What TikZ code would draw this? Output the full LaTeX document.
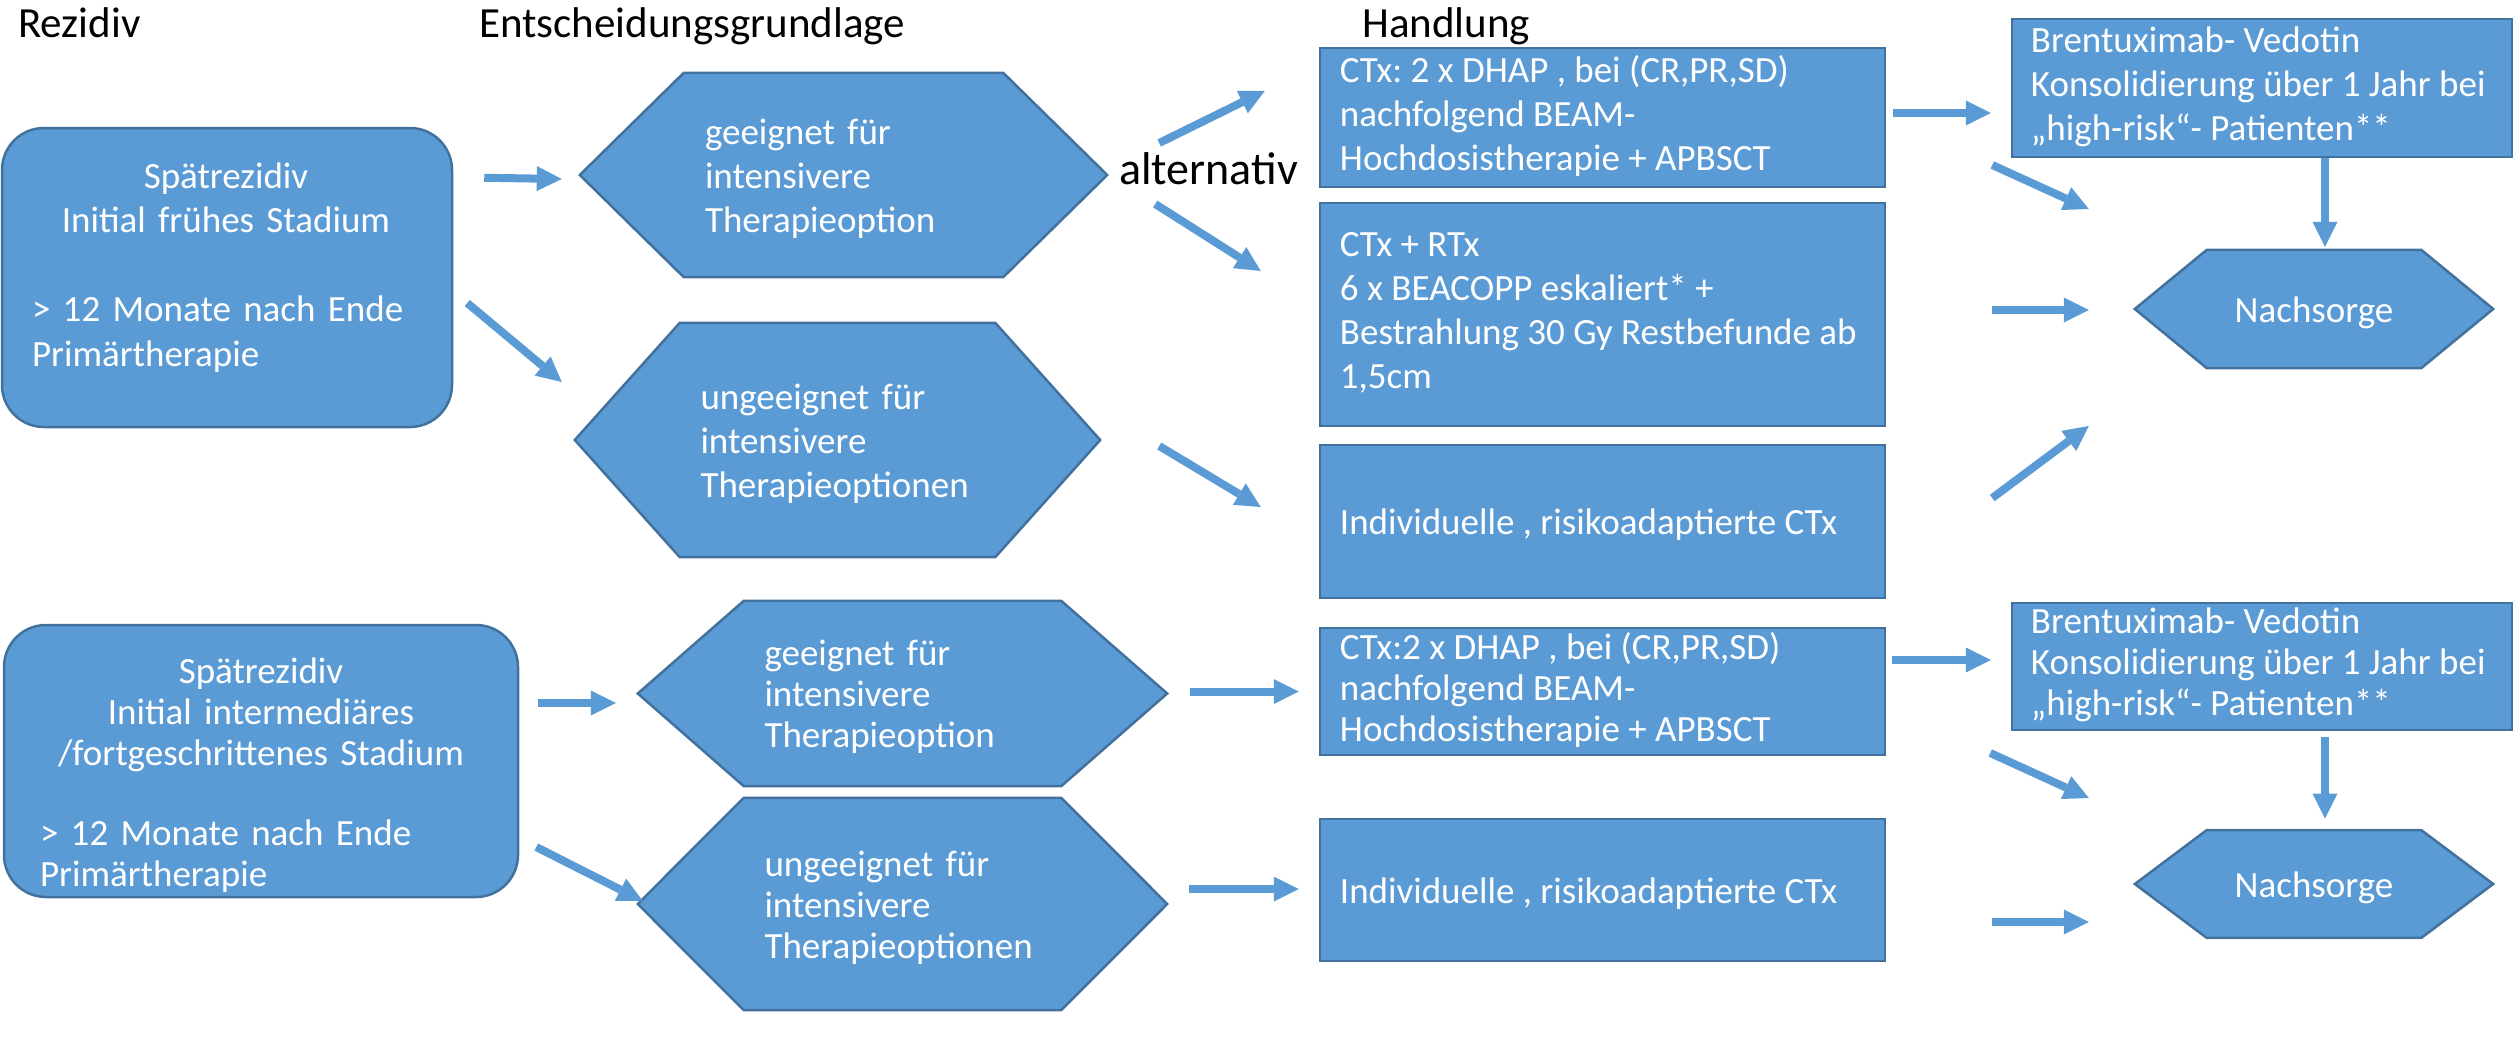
\documentclass[tikz,border=0pt]{standalone}
\usepackage{fontspec}
\setmainfont{Carlito}
\usetikzlibrary{arrows.meta}
\definecolor{fillblue}{HTML}{5B9BD5}
\definecolor{lineblue}{HTML}{41719C}
\pgfdeclarelayer{bg}
\pgfsetlayers{bg,main}
\newcommand\hexshape[2]{\draw[shp] (#1.west) -- ([xshift=#2pt]#1.north west) -- ([xshift=-#2pt]#1.north east) -- (#1.east) -- ([xshift=-#2pt]#1.south east) -- ([xshift=#2pt]#1.south west) -- cycle;}
\begin{document}
\begin{tikzpicture}[x=1pt,y=-1pt,
  shp/.style={draw=lineblue, fill=fillblue, line width=2.5pt},
  strut/.style={execute at begin node={\frenchspacing\rule{0pt}{35pt}}, execute at end node={\rule[-9pt]{0pt}{9pt}}},
  box/.style={shp, rectangle, inner sep=0pt},
  rbox/.style={shp, rectangle, rounded corners=42pt, inner sep=0pt},
  hexn/.style={rectangle, inner sep=0pt, text=white, align=left, strut},
  txt/.style={inner sep=0pt, text=white, align=left, strut},
  ltxt/.style={txt, anchor=west},
  fsA/.style={font=\fontsize{37}{44}\selectfont},
  fsB/.style={font=\fontsize{37}{41}\selectfont},
  head/.style={anchor=base west, inner sep=0pt, font=\fontsize{43}{52}\selectfont},
  blk/.style={draw=fillblue, line width=8pt, -{Triangle[width=25pt,length=25pt,line width=0pt]}},
]
\useasboundingbox (0,0) rectangle (2517,1055);

% headers
\node[head] (hRez) at (18,37) {Rezidiv};
\node[head] (hEnt) at (479,37) {Entscheidungsgrundlage};
\node[head] (hHan) at (1362,37) {Handlung};
\node[anchor=base west, inner sep=0pt, font=\fontsize{46}{55}\selectfont] (alt) at (1119,184) {alternativ};

% ---------- upper part ----------
\node[rbox, minimum width=450, minimum height=299] (r1) at (227,277.5) {};
\node[txt, text width=388, font=\fontsize{37}{44.5}\selectfont] (t1) at (226,264)
  {\makebox[388pt]{Spätrezidiv}\\\makebox[388pt]{Initial frühes Stadium}\\[44.5pt]> 12 Monate nach Ende\\Primärtherapie};

\node[hexn, fsA, minimum width=527, minimum height=204, text width=277] (h1) at (843.5,175)
  {geeignet für\\intensivere\\Therapieoption};
\node[hexn, fsA, minimum width=525, minimum height=234, text width=274] (h2) at (837.5,440)
  {ungeeignet für\\intensivere\\Therapieoptionen};

\node[box, minimum width=565, minimum height=139] (bA) at (1602.5,117.5) {};
\node[ltxt, fsA] (tA) at ([xshift=21]bA.west)
  {CTx: 2 x DHAP , bei (CR,PR,SD)\\nachfolgend BEAM-\\Hochdosistherapie + APBSCT};
\node[box, minimum width=565, minimum height=223] (bB) at (1602.5,314.5) {};
\node[ltxt, fsA] (tB) at ([xshift=21]bB.west)
  {CTx + RTx\\6 x BEACOPP eskaliert* +\\Bestrahlung 30 Gy Restbefunde ab\\1,5cm};
\node[box, minimum width=565, minimum height=153] (bC) at (1602.5,521.5) {};
\node[ltxt, fsA] (tC) at ([xshift=21]bC.west) {Individuelle , risikoadaptierte CTx};
\node[box, minimum width=500, minimum height=138] (bD) at (2262,88) {};
\node[ltxt, fsA] (tD) at ([xshift=20]bD.west)
  {Brentuximab- Vedotin\\Konsolidierung über 1 Jahr bei\\„high-risk“- Patienten**};
\node[hexn, fsA, align=center, minimum width=358, minimum height=118] (n1) at (2314,309) {Nachsorge};

% ---------- lower part ----------
\node[rbox, minimum width=514, minimum height=272] (r2) at (261,761) {};
\node[txt, text width=442, fsB] (t2) at (261,771.5)
  {\makebox[442pt]{Spätrezidiv}\\\makebox[442pt]{Initial intermediäres}\\\makebox[442pt]{/fortgeschrittenes Stadium}\\[39pt]> 12 Monate nach Ende\\Primärtherapie};

\node[hexn, fsB, minimum width=529, minimum height=185, text width=276] (h3) at (902.5,693.5)
  {geeignet für\\intensivere\\Therapieoption};
\node[hexn, fsB, minimum width=529, minimum height=212, text width=276] (h4) at (902.5,904)
  {ungeeignet für\\intensivere\\Therapieoptionen};

\node[box, minimum width=565, minimum height=127] (bE) at (1602.5,691.5) {};
\node[ltxt, fsB] (tE) at ([xshift=21]bE.west)
  {CTx:2 x DHAP , bei (CR,PR,SD)\\nachfolgend BEAM-\\Hochdosistherapie + APBSCT};
\node[box, minimum width=565, minimum height=142] (bF) at (1602.5,890) {};
\node[ltxt, fsB] (tF) at ([xshift=21]bF.west) {Individuelle , risikoadaptierte CTx};
\node[box, minimum width=500, minimum height=127] (bG) at (2262,666.5) {};
\node[ltxt, fsB] (tG) at ([xshift=20]bG.west)
  {Brentuximab- Vedotin\\Konsolidierung über 1 Jahr bei\\„high-risk“- Patienten**};
\node[hexn, fsB, align=center, minimum width=358, minimum height=107.5] (n2) at (2314,884) {Nachsorge};

% hexagon outlines behind the texts
\begin{pgfonlayer}{bg}
\hexshape{h1}{104}
\hexshape{h2}{105}
\hexshape{h3}{106}
\hexshape{h4}{106}
\hexshape{n1}{72}
\hexshape{n2}{72}
\end{pgfonlayer}

% ---------- arrows ----------
\draw[blk] ([shift={(31,51)}]r1.north east) -- ([shift={(-18,4)}]h1.west);
\draw[blk] ([shift={(14,25.5)}]r1.east) -- ([shift={(-13,-58)}]h2.west);
\draw[blk] ([shift={(52,-32)}]h1.east) -- ([shift={(-54,-26.5)}]bA.west);
\draw[blk] ([shift={(48,29)}]h1.east) -- ([shift={(-58,-43.5)}]bB.west);
\draw[blk] ([shift={(59,6)}]h2.east) -- ([shift={(-58,-14.5)}]bC.west);
\draw[blk] ([shift={(7,-4.5)}]bA.east) -- ([shift={(-20,25)}]bD.west);
\draw[blk] ([shift={(106,47.5)}]bA.east) -- ([shift={(-46,-100)}]n1.west);
\draw[blk] ([shift={(63,0)}]bD.south) -- ([shift={(11,-3)}]n1.north);
\draw[blk] ([shift={(106,-4.5)}]bB.east) -- ([shift={(-46,1)}]n1.west);
\draw[blk] ([shift={(106,-23.5)}]bC.east) -- ([shift={(-46,117)}]n1.west);

\draw[blk] ([shift={(19,-58)}]r2.east) -- ([shift={(-22,9.5)}]h3.west);
\draw[blk] ([shift={(17,86)}]r2.east) -- ([shift={(5,-3)}]h4.west);
\draw[blk] ([shift={(23,-2)}]h3.east) -- ([shift={(-20,0)}]bE.west);
\draw[blk] ([shift={(22,-15)}]h4.east) -- ([shift={(-20,-1)}]bF.west);
\draw[blk] ([shift={(6,-31.5)}]bE.east) -- ([shift={(-20,-6.5)}]bG.west);
\draw[blk] ([shift={(104,61.5)}]bE.east) -- ([shift={(-46,-86)}]n2.west);
\draw[blk] ([shift={(63,6)}]bG.south) -- ([shift={(11,-11.5)}]n2.north);
\draw[blk] ([shift={(106,32)}]bF.east) -- ([shift={(-46,38)}]n2.west);
\end{tikzpicture}
\end{document}
